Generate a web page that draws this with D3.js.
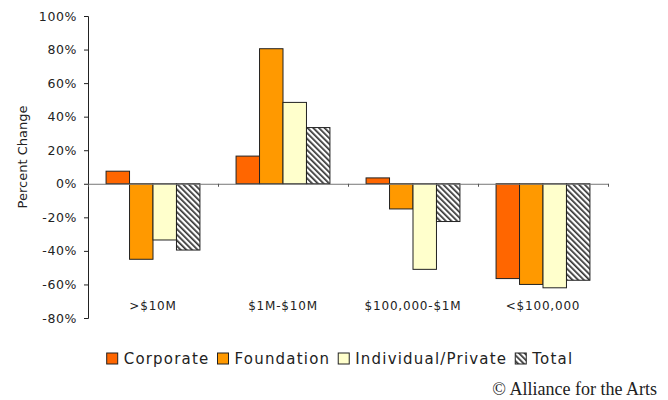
<!DOCTYPE html>
<html>
<head>
<meta charset="utf-8">
<script src="https://cdn.jsdelivr.net/npm/d3@7"></script>
<style>
  html, body { margin: 0; padding: 0; background: #fff; }
  svg { display: block; }
  text { font-family: "DejaVu Sans", Verdana, sans-serif; fill: #222; }
</style>
</head>
<body>
<div id="chart"></div>
<script>
// ── Data ───────────────────────────────────────────────────────────────────
const CATEGORIES = [">$10M", "$1M-$10M", "$100,000-$1M", "<$100,000"];
const SERIES = ["Corporate", "Foundation", "Individual/Private", "Total"];
const CORPORATE = [7.5, 16.5, 3.5, -56.5];
const FOUNDATION = [-45, 80.5, -15, -60];
const INDIVIDUAL = [-33.5, 48.5, -51, -62];
const TOTAL = [-39.5, 33.5, -22.5, -57.5];
const Y_TICKS = [-80, -60, -40, -20, 0, 20, 40, 60, 80, 100];

const SERIES_VALUES = [CORPORATE, FOUNDATION, INDIVIDUAL, TOTAL];
const SERIES_FILL = ["#ff6600", "#ff9900", "#ffffcc", "url(#hatch)"];

// ── Layout ─────────────────────────────────────────────────────────────────
const W = 668, H = 400;
const plot = { left: 88, right: 608, top: 16, bottom: 318 };

const svg = d3.select("#chart").append("svg")
    .attr("width", W).attr("height", H);

// hatch pattern for Total
const defs = svg.append("defs");
const pat = defs.append("pattern")
    .attr("id", "hatch")
    .attr("patternUnits", "userSpaceOnUse")
    .attr("width", 4).attr("height", 4)
    .attr("patternTransform", "rotate(-45)");
pat.append("rect").attr("width", 4).attr("height", 4).attr("fill", "#fff");
pat.append("rect").attr("width", 1.7).attr("height", 4).attr("fill", "#333");

// ── Scales ─────────────────────────────────────────────────────────────────
const y = d3.scaleLinear().domain([-80, 100]).range([plot.bottom, plot.top]);
const x = d3.scaleBand().domain(CATEGORIES).range([plot.left, plot.right]).padding(0);
const x1 = d3.scaleBand().domain(SERIES).range([0, x.bandwidth()])
    .paddingInner(0).paddingOuter(0.77);
const xb = d3.scaleLinear().domain([0, CATEGORIES.length]).range([plot.left, plot.right]);

// ── Bars ───────────────────────────────────────────────────────────────────
const rows = CATEGORIES.map((c, i) => SERIES.map((s, j) => ({ c, s, j, v: SERIES_VALUES[j][i] })));

svg.append("g").selectAll("g")
    .data(rows).join("g")
    .attr("transform", d => `translate(${x(d[0].c)},0)`)
    .selectAll("rect")
    .data(d => d).join("rect")
    .attr("x", d => x1(d.s))
    .attr("width", x1.bandwidth())
    .attr("y", d => y(Math.max(0, d.v)))
    .attr("height", d => Math.abs(y(d.v) - y(0)))
    .attr("fill", d => SERIES_FILL[d.j])
    .attr("stroke", "#222")
    .attr("stroke-width", 1);

// ── Axes ───────────────────────────────────────────────────────────────────
const yAxis = svg.append("g")
    .attr("transform", `translate(${plot.left},0)`)
    .call(d3.axisLeft(y).tickValues(Y_TICKS).tickFormat(d => d + "%").tickSize(4).tickPadding(7));
yAxis.select(".domain").attr("stroke", "#222");
yAxis.selectAll("line").attr("stroke", "#222");
yAxis.selectAll("text")
    .attr("font-family", "DejaVu Sans, sans-serif")
    .attr("font-size", 12.5)
    .attr("letter-spacing", 0.6)
    .attr("fill", "#222");

const xAxis = svg.append("g")
    .attr("transform", `translate(0,${y(0)})`)
    .call(d3.axisBottom(xb).tickValues(d3.range(CATEGORIES.length + 1)).tickFormat("").tickSize(3).tickSizeOuter(0));
xAxis.select(".domain").attr("stroke", "#777");
xAxis.selectAll("line").attr("stroke", "#555");

// category labels
svg.append("g").selectAll("text")
    .data(CATEGORIES).join("text")
    .attr("x", d => x(d) + x.bandwidth() / 2)
    .attr("y", 310)
    .attr("text-anchor", "middle")
    .attr("font-size", 12)
    .attr("letter-spacing", 0.8)
    .text(d => d);

// y axis title
svg.append("text")
    .attr("transform", "translate(27,157) rotate(-90)")
    .attr("text-anchor", "middle")
    .attr("font-size", 13)
    .text("Percent Change");

// ── Legend ─────────────────────────────────────────────────────────────────
const legend = svg.append("g");
let lx = 0;
SERIES.forEach((s, j) => {
    const item = legend.append("g").attr("transform", `translate(${lx},0)`);
    item.append("rect")
        .attr("x", 0).attr("y", 353)
        .attr("width", 11).attr("height", 11)
        .attr("fill", SERIES_FILL[j])
        .attr("stroke", "#222");
    const t = item.append("text")
        .attr("x", 17).attr("y", 364)
        .attr("font-size", 15)
        .attr("letter-spacing", 1.2)
        .text(s);
    lx += 17 + t.node().getComputedTextLength() + 8;
});
legend.attr("transform", `translate(${340 - (lx - 8) / 2},0)`);

// ── Source ─────────────────────────────────────────────────────────────────
svg.append("text")
    .attr("x", 657).attr("y", 395)
    .attr("text-anchor", "end")
    .attr("font-size", 18)
    .style("font-family", "'Liberation Serif', serif")
    .text("© Alliance for the Arts");
</script>
</body>
</html>
